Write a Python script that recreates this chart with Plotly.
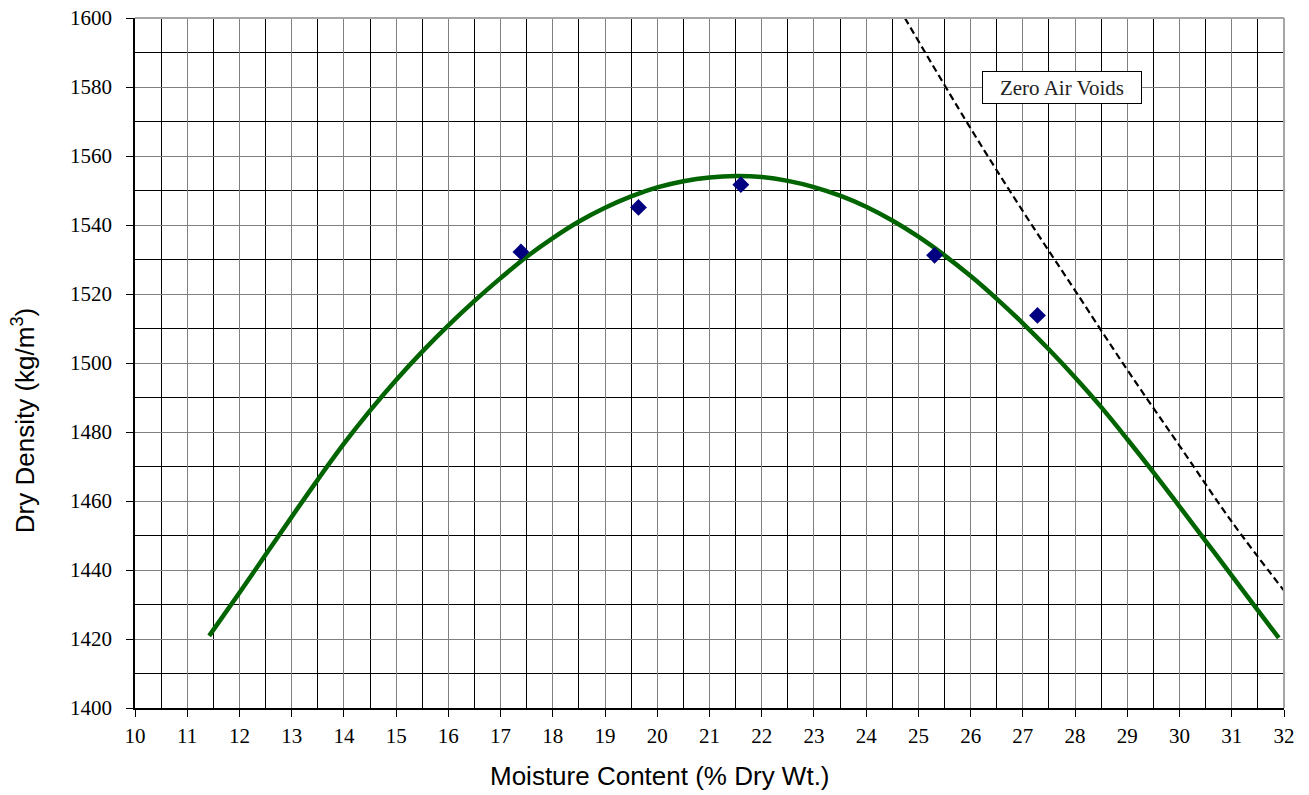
import plotly.graph_objects as go

# Fitted compaction curve
curve_x = [11.42, 12.0, 12.5, 13.0, 13.5, 14.0, 14.5, 15.0, 15.5, 16.0, 16.5, 17.0, 17.5,
           18.0, 18.5, 19.0, 19.5, 20.0, 20.5, 21.0, 21.5, 22.0, 22.5, 23.0, 23.5, 24.0,
           24.5, 25.0, 25.5, 26.0, 26.5, 27.0, 27.5, 28.0, 28.5, 29.0, 29.5, 30.0, 30.5,
           31.0, 31.5, 31.9]
curve_y = [1420.9, 1433.4, 1444.4, 1455.4, 1466.2, 1476.6, 1486.2, 1495.1, 1503.3, 1510.9,
           1518.0, 1524.6, 1530.8, 1536.2, 1541.0, 1545.0, 1548.3, 1550.9, 1552.7, 1553.8,
           1554.2, 1553.9, 1552.8, 1551.0, 1548.5, 1545.3, 1541.3, 1536.6, 1531.2, 1525.2,
           1518.6, 1511.5, 1503.9, 1495.8, 1487.2, 1477.9, 1468.3, 1458.4, 1448.4, 1438.4,
           1428.3, 1420.3]

# Measured points
pts_x = [17.39, 19.64, 21.60, 25.31, 27.28]
pts_y = [1532.2, 1545.1, 1551.7, 1531.2, 1513.8]

# Zero air voids line
zav_x = [24.74, 26, 27, 28, 29, 30, 31, 32]
zav_y = [1600, 1568, 1544, 1521, 1498, 1476, 1454, 1434]

x_title = "Moisture Content (% Dry Wt.)"
y_title = "Dry Density (kg/m<sup>3</sup>)"
zav_label = "Zero Air Voids"

fig = go.Figure()
fig.add_trace(go.Scatter(x=zav_x, y=zav_y, mode="lines",
                         line=dict(color="black", width=2.2, dash="7px,4px", shape="spline"),
                         hoverinfo="skip"))
fig.add_trace(go.Scatter(x=curve_x, y=curve_y, mode="lines",
                         line=dict(color="#006400", width=4.5, shape="spline", smoothing=1.0)))
fig.add_trace(go.Scatter(x=pts_x, y=pts_y, mode="markers",
                         marker=dict(symbol="diamond", size=13, color="#000080")))

tickfont = dict(family="Liberation Serif", size=21, color="black")
fig.update_xaxes(range=[10, 32], dtick=1, tick0=10, showgrid=True, gridcolor="#808080", gridwidth=1,
                 minor=dict(dtick=0.5, showgrid=True, gridcolor="black", gridwidth=1, ticks=""),
                 showline=True, linecolor="black", linewidth=1.5, ticks="outside", ticklen=7,
                 tickcolor="black", tickfont=tickfont, zeroline=False, ticklabelstandoff=1,
                 automargin=False)
fig.update_yaxes(range=[1400, 1600], dtick=20, tick0=1400, showgrid=True, gridcolor="#808080", gridwidth=1,
                 minor=dict(dtick=10, showgrid=True, gridcolor="black", gridwidth=1, ticks=""),
                 showline=True, linecolor="black", linewidth=1.5, ticks="outside", ticklen=7,
                 tickcolor="black", tickfont=tickfont, zeroline=False, ticklabelstandoff=10,
                 automargin=False)

fig.add_shape(type="line", xref="paper", yref="paper", x0=0, x1=1, y0=1, y1=1,
              line=dict(color="#a6a6a6", width=2))
fig.add_shape(type="line", xref="paper", yref="paper", x0=1, x1=1, y0=0, y1=1,
              line=dict(color="#a6a6a6", width=2))

fig.add_annotation(x=27.74, y=1580.0, xref="x", yref="y", text=zav_label, showarrow=False,
                   font=dict(family="Liberation Serif", size=21, color="#222222"),
                   bgcolor="white", bordercolor="black", borderwidth=1, borderpad=4,
                   width=150, height=23)
fig.add_annotation(x=(660 - 135) / 1149, y=-(776 - 707.7) / 689.7, xref="paper", yref="paper",
                   text=x_title, showarrow=False, xanchor="center", yanchor="middle",
                   font=dict(family="Liberation Sans", size=26, color="black"))
fig.add_annotation(x=(23 - 135) / 1149, y=(707.7 - 421) / 689.7, xref="paper", yref="paper",
                   text=y_title, showarrow=False, xanchor="center", yanchor="middle", textangle=-90,
                   font=dict(family="Liberation Sans", size=26, color="black"))

fig.update_layout(width=1309, height=795, margin=dict(l=135, r=25, t=18, b=87),
                  paper_bgcolor="white", plot_bgcolor="white", showlegend=False)

fig.write_html("out.html")
